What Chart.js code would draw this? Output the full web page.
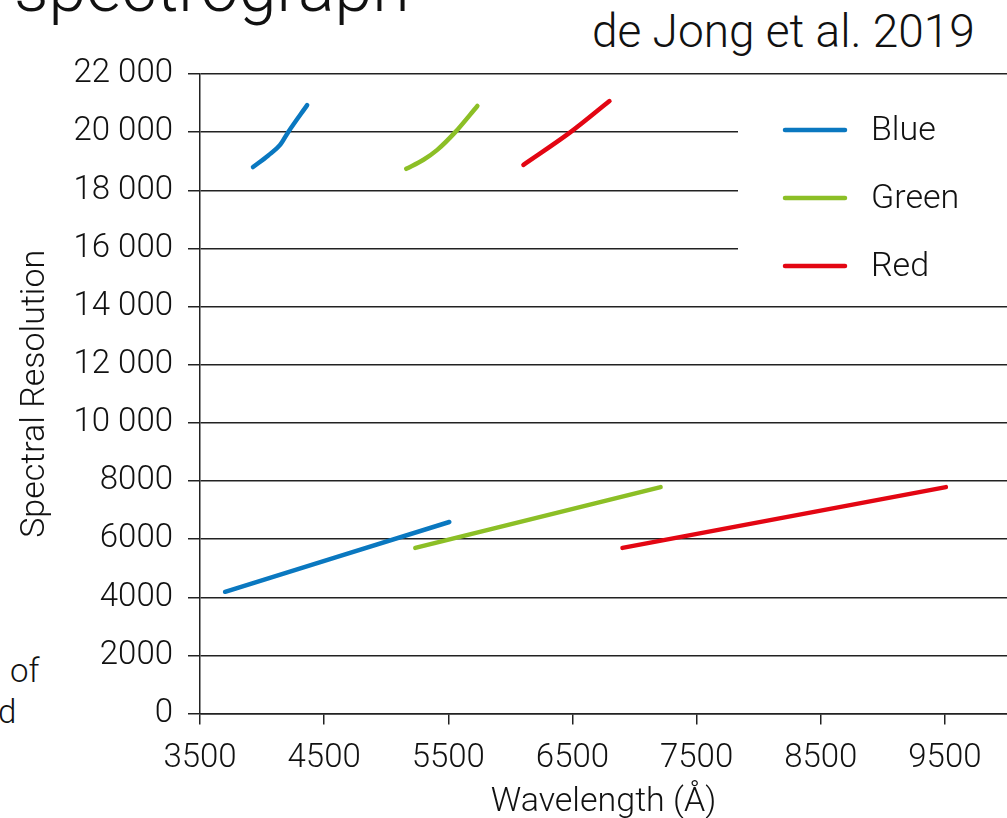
<!DOCTYPE html>
<html>
<head>
<meta charset="utf-8">
<script src="https://cdn.jsdelivr.net/npm/chart.js@4.4.1/dist/chart.umd.min.js"></script>
<style>
  body { margin: 0; background: #fff; overflow: hidden; }
  .txt { position: absolute; font-family: "Roboto", "Liberation Sans", sans-serif; font-weight: 300; color: #111; white-space: nowrap; line-height: 1; }
</style>
</head>
<body>
<div class="txt" style="left:14px; top:-46px; font-size:68px;">spectrograph</div>
<div class="txt" style="left:592px; top:8px; font-size:46px;">de Jong et al. 2019</div>
<div class="txt" style="left:10px; top:654px; font-size:33px;">of</div>
<div class="txt" style="left:-2px; top:695px; font-size:33px;">d</div>
<canvas id="chart" width="1007" height="818" style="position:absolute;left:0;top:0;"></canvas>
<script>
// data
const blueHighX = [3927, 4050, 4145, 4210, 4363];
const blueHighY = [18800, 19200, 19560, 20000, 20930];
const greenHighX = [5161, 5300, 5411, 5556, 5734];
const greenHighY = [18740, 19050, 19390, 20000, 20900];
const redHighX = [6105, 6484, 6798];
const redHighY = [18875, 20000, 21070];
const blueLowX = [3702, 5508];
const blueLowY = [4190, 6590];
const greenLowX = [5234, 7210];
const greenLowY = [5700, 7790];
const redLowX = [6903, 9508];
const redLowY = [5700, 7790];

const xTicks = [3500, 4500, 5500, 6500, 7500, 8500, 9500];
const yTicks = [0, 2000, 4000, 6000, 8000, 10000, 12000, 14000, 16000, 18000, 20000, 22000];

const seriesNames = ['Blue', 'Green', 'Red'];
const seriesColors = ['#0a78c0', '#8cbf26', '#e30613'];

const FONT = '"Roboto", "Liberation Sans", sans-serif';

function pts(xs, ys) {
    return xs.map((x, i) => ({ x: x, y: ys[i] }));
}

function ds(label, color, xs, ys) {
    return {
        label: label,
        data: pts(xs, ys),
        showLine: true,
        borderColor: color,
        backgroundColor: color,
        borderWidth: 4.5,
        borderCapStyle: 'round',
        pointRadius: 0,
        cubicInterpolationMode: 'monotone'
    };
}

// legend drawn inside the plot, on a white box that hides the grid
const legendBox = {
    id: 'legendBox',
    afterDraw(chart) {
        const c = chart.ctx;
        c.save();
        c.fillStyle = '#fff';
        c.fillRect(738, 100, 269, 190);
        seriesNames.forEach((name, i) => {
            const y = 130 + i * 68;
            c.strokeStyle = seriesColors[i];
            c.lineWidth = 4.5;
            c.lineCap = 'round';
            c.beginPath();
            c.moveTo(785, y);
            c.lineTo(845, y);
            c.stroke();
            c.fillStyle = '#111';
            c.font = '300 34px ' + FONT;
            c.textBaseline = 'middle';
            c.fillText(name, 871, y + 1);
        });
        c.restore();
    }
};

const ctx = document.getElementById('chart').getContext('2d');
const chart = new Chart(ctx, {
    type: 'scatter',
    data: {
        datasets: [
            ds('Blue', seriesColors[0], blueHighX, blueHighY),
            ds('Green', seriesColors[1], greenHighX, greenHighY),
            ds('Red', seriesColors[2], redHighX, redHighY),
            ds('Blue low', seriesColors[0], blueLowX, blueLowY),
            ds('Green low', seriesColors[1], greenLowX, greenLowY),
            ds('Red low', seriesColors[2], redLowX, redLowY)
        ]
    },
    options: {
        responsive: false,
        animation: false,
        layout: { padding: { top: 74, right: 0, left: 15, bottom: -5 } },
        plugins: {
            legend: { display: false },
            tooltip: { enabled: false }
        },
        scales: {
            x: {
                type: 'linear',
                min: 3500,
                max: 10000,
                afterBuildTicks: (axis) => { axis.ticks = xTicks.map(v => ({ value: v })); },
                border: { color: '#222', width: 1.5 },
                grid: { drawOnChartArea: false, drawTicks: true, tickLength: 11, color: '#222', lineWidth: 1.5 },
                ticks: {
                    color: '#111',
                    padding: 14,
                    maxRotation: 0,
                    font: { family: FONT, size: 33, weight: 300 },
                    callback: (v) => String(v)
                },
                title: {
                    display: true,
                    text: 'Wavelength (Å)',
                    color: '#111',
                    padding: { top: -10, bottom: 0 },
                    font: { family: FONT, size: 34, weight: 300 }
                }
            },
            y: {
                min: 0,
                max: 22000,
                afterBuildTicks: (axis) => { axis.ticks = yTicks.map(v => ({ value: v })); },
                afterFit: (axis) => { axis.width = 185; },
                border: { color: '#222', width: 1.5 },
                grid: { color: '#222', lineWidth: 1.5, tickLength: 12 },
                ticks: {
                    color: '#111',
                    padding: 15,
                    font: { family: FONT, size: 33, weight: 300 },
                    callback: (v) => v >= 10000 ? Math.floor(v / 1000) + ' ' + String(v % 1000).padStart(3, '0') : String(v)
                },
                title: {
                    display: true,
                    text: 'Spectral Resolution',
                    color: '#111',
                    padding: { top: 0, bottom: 0 },
                    font: { family: FONT, size: 34, weight: 300 }
                }
            }
        }
    },
    plugins: [legendBox]
});
</script>
</body>
</html>
